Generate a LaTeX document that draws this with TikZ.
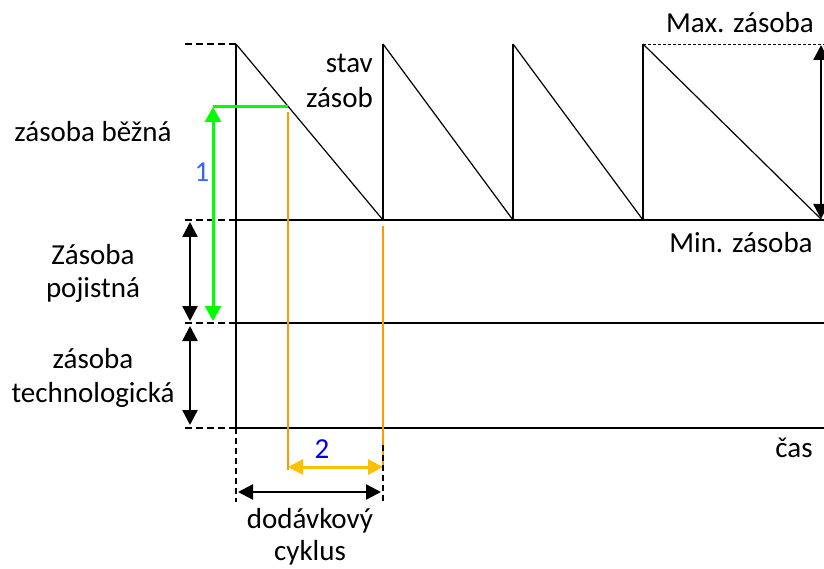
\documentclass[tikz,border=0pt]{standalone}
\usepackage{fontspec}
\setmainfont{Carlito}
\usetikzlibrary{arrows.meta}
\definecolor{grn}{RGB}{0,255,0}
\definecolor{orng}{RGB}{255,153,0}
\definecolor{ylw}{RGB}{255,192,0}
\definecolor{blueone}{RGB}{51,102,255}
\definecolor{bluetwo}{RGB}{0,0,230}
\begin{document}
\begin{tikzpicture}[x=1pt,y=-1pt,
  lbl/.style={anchor=base, inner sep=0pt, font=\fontsize{29}{35}\selectfont},
  lblr/.style={lbl, anchor=base east},
  heavy/.style={line width=2.6pt},
  slope/.style={line width=1.2pt},
  leftdash/.style={line width=2.4pt, dash pattern=on 7pt off 4pt},
  dimarrow/.style={line width=2.4pt, {Triangle[length=15pt,width=15pt]}-{Triangle[length=15pt,width=15pt]}},
  grnarrow/.style={line width=3pt, grn, {Triangle[length=15pt,width=16pt]}-{Triangle[length=15pt,width=16pt]}},
  orline/.style={line width=2.2pt, orng},
  ylarrow/.style={line width=3pt, ylw, {Triangle[length=15pt,width=15pt]}-{Triangle[length=15pt,width=15pt]}}
]
\useasboundingbox (0,0) rectangle (824,569);

% key points
\coordinate (T0) at (236,44);
\coordinate (B0) at (236,220);
\coordinate (T1) at (383,44);
\coordinate (B1) at (383,220);
\coordinate (T2) at (513,44);
\coordinate (B2) at (513,220);
\coordinate (T3) at (643,44);
\coordinate (B3) at (643,220);
\coordinate (B4) at (822,220);
\coordinate (P0) at (236,323);
\coordinate (O) at (236,428);
\coordinate (MinE) at (824,220);
\coordinate (PojE) at (824,323);
\coordinate (TimeE) at (824,428);
\coordinate (MaxE) at (824,44);

% axis and level lines
\draw[heavy] (T0) -- (O);
\draw[heavy] (B0) -- (MinE);
\draw[heavy] (P0) -- (PojE);
\draw[heavy] (O) -- (TimeE);

% sawtooth
\draw[heavy] (B1) -- (T1);
\draw[heavy] (B2) -- (T2);
\draw[heavy] (B3) -- (T3);
\draw[slope] (T0) -- (B1);
\draw[slope] (T1) -- (B2);
\draw[slope] (T2) -- (B3);
\draw[slope] (T3) -- (B4);

% max dashed line and right arrow
\draw[line width=0.9pt, dash pattern=on 3pt off 2pt] (T3) -- (MaxE);
\coordinate (RA1) at (821,45);
\coordinate (RA2) at (821,219);
\draw[dimarrow] (RA1) -- (RA2);

% left dashed ticks
\coordinate (L0) at (185,44);
\coordinate (L1) at (185,220);
\coordinate (L2) at (185,323);
\coordinate (L3) at (185,428);
\draw[leftdash] (L0) -- (T0);
\draw[leftdash] (L1) -- (B0);
\draw[leftdash] (L2) -- (P0);
\draw[leftdash] (L3) -- (O);

% left dimension arrows
\coordinate (A1t) at (190,222);
\coordinate (A1b) at (190,321);
\coordinate (A2t) at (190,326);
\coordinate (A2b) at (190,425);
\draw[dimarrow] (A1t) -- (A1b);
\draw[dimarrow] (A2t) -- (A2b);

% green
\coordinate (G1) at (213,107);
\coordinate (G2) at (213,321);
\coordinate (GX) at (288,107);
\draw[grnarrow] (G1) -- (G2);
\draw[line width=3pt, grn] (G1) -- (GX);

% orange
\coordinate (O1t) at (288,112);
\coordinate (O1b) at (288,470);
\coordinate (O2t) at (383,226);
\coordinate (O2b) at (383,465);
\draw[orline] (O1t) -- (O1b);
\draw[orline] (O2t) -- (O2b);

% yellow arrow
\coordinate (Y1) at (288,467);
\coordinate (Y2) at (383,467);
\draw[ylarrow] (Y1) -- (Y2);

% delivery cycle
\coordinate (D0b) at (236,502);
\coordinate (D1t) at (383,445);
\coordinate (D1b) at (383,502);
\draw[line width=2pt, dash pattern=on 6pt off 4pt] (O) -- (D0b);
\draw[line width=2pt, dash pattern=on 6pt off 4pt] (D1t) -- (D1b);
\coordinate (C1) at (238,492);
\coordinate (C2) at (381,492);
\draw[dimarrow] (C1) -- (C2);

% labels
\node[lbl] (bezna) at (93,142) {zásoba běžná};
\node[lbl] (poj1) at (93,265) {Zásoba};
\node[lbl] (poj2) at (93,298) {pojistná};
\node[lbl] (tech1) at (93,368) {zásoba};
\node[lbl] (tech2) at (93,402) {technologická};
\node[lbl, text=blueone] (one) at (202,182) {1};
\node[lblr] (stav1) at (373,73) {stav};
\node[lblr] (stav2) at (373,108) {zásob};
\node[lbl] (maxz) at (740,33) {Max. zásoba};
\node[lbl] (minz) at (741,253) {Min. zásoba};
\node[lbl] (cas) at (794,457) {čas};
\node[lbl, text=bluetwo] (two) at (322,458) {2};
\node[lbl] (dod1) at (310,528) {dodávkový};
\node[lbl] (dod2) at (310,560) {cyklus};
\end{tikzpicture}
\end{document}
